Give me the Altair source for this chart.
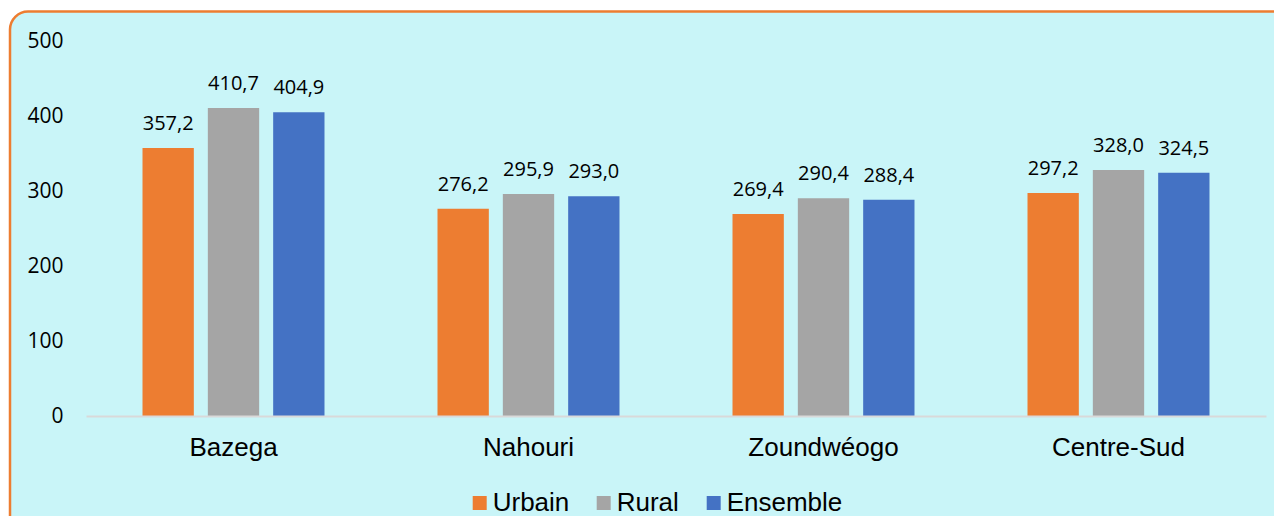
import altair as alt
import pandas as pd

regions = ["Bazega", "Nahouri", "Zoundwéogo", "Centre-Sud"]
series = ["Urbain", "Rural", "Ensemble"]
urbain = [357.2, 276.2, 269.4, 297.2]
rural = [410.7, 295.9, 290.4, 328.0]
ensemble = [404.9, 293.0, 288.4, 324.5]
colors = ["#ED7D31", "#A5A5A5", "#4472C4"]
y_ticks = [0, 100, 200, 300, 400, 500]

rows = []
for i, r in enumerate(regions):
    for s, vals in zip(series, [urbain, rural, ensemble]):
        v = vals[i]
        rows.append({"region": r, "serie": s, "valeur": v,
                     "label": f"{v:.1f}".replace(".", ",")})
df = pd.DataFrame(rows)

W, H = 1180, 375

x_enc = alt.X("region:N", sort=regions, title=None,
              scale=alt.Scale(paddingInner=0.3356, paddingOuter=0.1678),
              axis=alt.Axis(labelAngle=0, labelFont="Liberation Sans", labelFontSize=26,
                            labelColor="#000000", labelPadding=18, ticks=False,
                            domainColor="#D9D9D9", domainWidth=2, grid=False, zindex=1))
xoff_enc = alt.XOffset("serie:N", sort=series,
                       scale=alt.Scale(paddingInner=0.2144, paddingOuter=0.1072))
y_enc = alt.Y("valeur:Q", title=None,
              scale=alt.Scale(domain=[0, 500], nice=False),
              axis=alt.Axis(values=y_ticks, domain=False, ticks=False, grid=False,
                            labelFont="Open Sans", labelFontSize=21, labelColor="#000000",
                            labelPadding=23, zindex=1))
color_enc = alt.Color("serie:N", sort=series,
                      scale=alt.Scale(domain=series, range=colors),
                      legend=alt.Legend(title=None, orient="none", direction="horizontal",
                                        legendX=380.7, legendY=449,
                                        labelFont="Liberation Sans", labelFontSize=26,
                                        labelColor="#000000", symbolType="square",
                                        symbolSize=196, symbolStrokeWidth=0,
                                        labelOffset=0, columnPadding=21, padding=0,
                                        zindex=1))

frame = alt.Chart(pd.DataFrame({"f": [0]})).mark_rect(
    fill="#C9F5F8", stroke="#ED7D31", strokeWidth=2.5, cornerRadius=18, clip=False
).encode(x=alt.value(-76), x2=alt.value(1215), y=alt.value(-29.5), y2=alt.value(540))

bars = alt.Chart(df).mark_bar().encode(
    x=x_enc, xOffset=xoff_enc, y=y_enc, color=color_enc
)

labels = alt.Chart(df).mark_text(
    dy=-18, baseline="alphabetic", align="center", font="Open Sans", fontSize=20, color="#000000"
).encode(x=x_enc, xOffset=xoff_enc, y=y_enc, text="label:N")

chart = alt.layer(frame, bars, labels).properties(
    width=W, height=H,
    autosize=alt.AutoSizeParams(type="none"),
    padding={"left": 78, "top": 33, "right": 8, "bottom": 100},
    background="#FFFFFF",
).configure_view(stroke=None)

chart.save("out.html", embed_options={"renderer": "svg", "actions": False})
